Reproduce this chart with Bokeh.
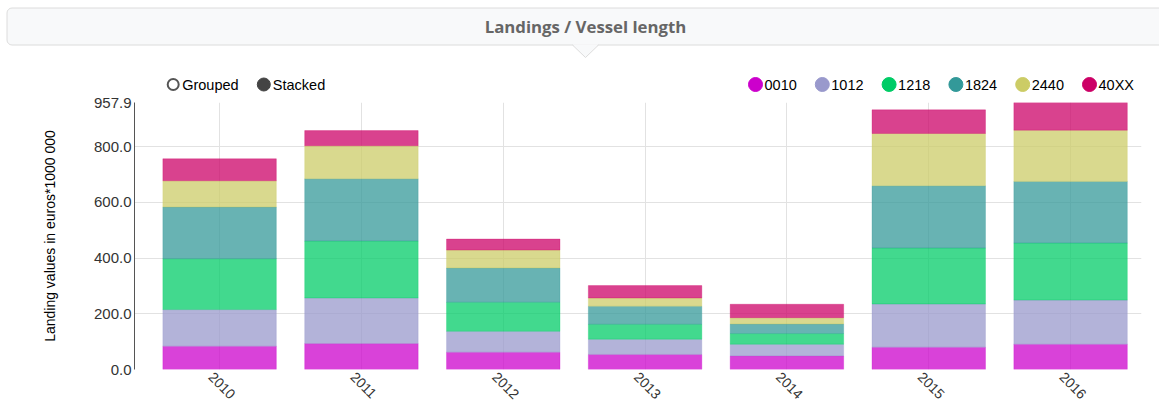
import math
from bokeh.plotting import figure
from bokeh.models import ColumnDataSource, Range1d, FixedTicker, PrintfTickFormatter, LinearAxis
from bokeh.layouts import column
from bokeh.embed import file_html
from bokeh.resources import INLINE
from bokeh.core.properties import value

# ---------------- data ----------------
years = [2010, 2011, 2012, 2013, 2014, 2015, 2016]
series = ["0010", "1012", "1218", "1824", "2440", "40XX"]
colors = ["#cc00cc", "#9999cc", "#00cc66", "#339999", "#cccc66", "#cc0066"]
v0010 = [83.5, 93.0, 62.0, 54.0, 48.7, 80.0, 90.6]
v1012 = [131.5, 163.5, 75.0, 54.6, 41.9, 155.0, 158.4]
v1218 = [182.7, 204.3, 104.0, 53.4, 38.4, 200.7, 204.6]
v1824 = [184.9, 223.2, 123.0, 65.0, 34.0, 223.3, 221.0]
v2440 = [94.4, 118.6, 64.5, 29.5, 23.0, 187.7, 183.9]
v40XX = [79.0, 54.4, 39.5, 44.5, 48.0, 84.9, 99.4]
y_ticks = [0, 200, 400, 600, 800]
title_text = "Landings / Vessel length"
y_label = "Landing values in euros*1000 000"
modes = ["Grouped", "Stacked"]

values = [v0010, v1012, v1218, v1824, v2440, v40XX]
totals = [sum(col) for col in zip(*values)]
y_max = round(max(totals), 1)

FONT = "Liberation Sans"
W = 1159
TOP_H = 93
CH_H = 316

# ---------------- header (title box + legends) ----------------
top = figure(width=W, height=TOP_H, x_range=Range1d(0, W), y_range=Range1d(TOP_H, 0),
             output_backend="svg", toolbar_location=None, min_border=0,
             x_axis_location=None, y_axis_location=None, frame_align=False)
top.grid.visible = False
top.outline_line_color = None

top.quad(left=6.5, right=1190, top=7.5, bottom=44.5, fill_color="#f8f9fa",
         line_color="#dcdcdc", line_width=1, border_radius=5)
top.patch(x=[572, 585, 598], y=[43.8, 57, 43.8], fill_color="#f8f9fa", line_color=None)
top.line(x=[572, 585, 598], y=[44.5, 57, 44.5], line_color="#dcdcdc", line_width=1)
top.text(x=[585], y=[26], text=[title_text], text_align="center", text_baseline="middle",
         text_font=value("Open Sans"), text_font_style="bold", text_font_size="16.8px",
         text_color="#666666")

# Grouped / Stacked radio
mx = [172.7, 263.3]
top.scatter(x=[mx[0]], y=[84], size=11, marker="circle", fill_color="white",
            line_color="#555555", line_width=2)
top.scatter(x=[mx[1]], y=[84], size=13, marker="circle", fill_color="#444444",
            line_color="#444444")
top.text(x=[m + 9 for m in mx], y=[84, 84], text=modes, text_align="left",
         text_baseline="middle", text_font=value(FONT), text_font_size="14.5px",
         text_color="#000000")

# series legend
lx = [755 + i * 66.8 for i in range(len(series))]
top.scatter(x=lx, y=[84] * len(series), size=14, marker="circle", fill_color=colors,
            line_color=colors)
top.text(x=[x + 9 for x in lx], y=[84] * len(series), text=series, text_align="left",
         text_baseline="middle", text_font=value(FONT), text_font_size="14.5px",
         text_color="#000000")

# ---------------- chart ----------------
data = {"year": years}
for name, vals in zip(series, values):
    data[name] = vals
src = ColumnDataSource(data)

X0, X1 = 2009.4, 2016.5
p = figure(width=W, height=CH_H, x_range=Range1d(X0, X1), y_range=Range1d(0, y_max),
           output_backend="svg", toolbar_location=None, frame_align=False,
           x_axis_location=None,
           min_border_left=134, min_border_right=18, min_border_top=9, min_border_bottom=40)
p.outline_line_color = None

p.vbar_stack(series, x="year", width=0.8, source=src, fill_color=colors, line_color=colors,
             fill_alpha=0.74, line_alpha=0.3, line_width=1)

p.xgrid.ticker = FixedTicker(ticks=years)
p.ygrid.ticker = FixedTicker(ticks=y_ticks)
p.grid.grid_line_color = "#e2e2e2"
p.grid.grid_line_width = 1

# x axis on a slightly shifted range so the rotated labels sit centred under the bars
shift = 8.5 / (1141 - 134) * (X1 - X0)
p.extra_x_ranges = {"lab": Range1d(X0 + shift, X1 + shift)}
xax = LinearAxis(x_range_name="lab", ticker=FixedTicker(ticks=years))
xax.major_label_orientation = -math.pi / 4
xax.axis_line_color = None
xax.major_tick_line_color = None
xax.minor_tick_line_color = None
xax.major_tick_out = 0
xax.major_label_standoff = 5
xax.major_label_text_font = FONT
xax.major_label_text_font_size = "14px"
xax.major_label_text_color = "#333333"
p.add_layout(xax, "below")

p.yaxis.ticker = FixedTicker(ticks=y_ticks + [y_max])
p.yaxis.formatter = PrintfTickFormatter(format="%.1f")
p.yaxis.axis_line_color = "#555555"
p.yaxis.major_tick_line_color = None
p.yaxis.minor_tick_line_color = None
p.yaxis.major_tick_out = 0
p.yaxis.major_label_standoff = 3
p.yaxis.major_label_text_font = FONT
p.yaxis.major_label_text_font_size = "15px"
p.yaxis.major_label_text_color = "#333333"
p.yaxis.axis_label = y_label
p.yaxis.axis_label_text_font = FONT
p.yaxis.axis_label_text_font_size = "14px"
p.yaxis.axis_label_text_font_style = "normal"
p.yaxis.axis_label_text_color = "#000000"
p.yaxis.axis_label_standoff = 33

layout = column(top, p, spacing=0)
open("out.html", "w").write(file_html(layout, INLINE))
